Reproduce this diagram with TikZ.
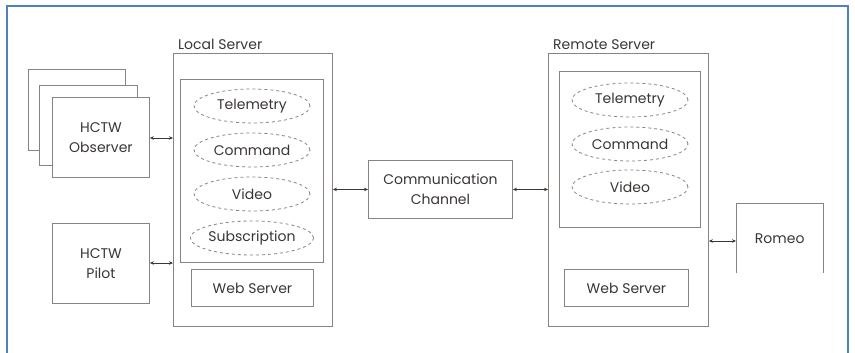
\documentclass[tikz,border=0pt]{standalone}
\usepackage{fontspec}
\setmainfont{Poppins}
\usetikzlibrary{arrows.meta,shapes.geometric}
\definecolor{ln}{HTML}{8A8480}
\definecolor{tx}{HTML}{3A3634}
\definecolor{bl}{HTML}{4F81BD}
\begin{document}
\begin{tikzpicture}[x=1pt,y=-1pt,
  fnt/.style={font=\fontsize{14}{20}\selectfont},
  box/.style={draw=ln,line width=0.9pt,fill=white,inner sep=0pt,fnt,text=tx,align=center},
  ell/.style={draw=ln,dashed,ellipse,line width=0.8pt,minimum width=116pt,minimum height=34pt,inner sep=0pt,fnt,text=tx},
  lbl/.style={fnt,text=tx,anchor=south west,inner sep=0pt},
  conn/.style={draw=tx,line width=0.7pt,{Stealth[length=4pt,width=3.5pt]}-{Stealth[length=4pt,width=3.5pt]}}]
\useasboundingbox (0,0) rectangle (855,353);
\draw[bl,line width=1.5pt] (7,375) -- (7,6) -- (848,6) -- (848,375);
% HCTW Observer stack
\node[box,minimum width=97pt,minimum height=81pt,anchor=north west] (ob3) at (28,69) {};
\node[box,minimum width=98pt,minimum height=80pt,anchor=north west] (ob2) at (39,85) {};
\node[box,minimum width=97pt,minimum height=80pt,anchor=north west] (ob) at (52,97) {HCTW\\Observer};
% HCTW Pilot
\node[box,minimum width=97pt,minimum height=80pt,anchor=north west] (pilot) at (52,223) {HCTW\\Pilot};
% Local server
\node[box,minimum width=159pt,minimum height=273pt,anchor=north west] (ls) at (173,53) {};
\node[lbl] (lsl) at (178,50) {Local Server};
\node[box,minimum width=143pt,minimum height=183pt,anchor=north west] (lsi) at (180,79) {};
\node[ell] (lt) at (252,106) {Telemetry};
\node[ell] (lc) at (252,150) {Command};
\node[ell] (lv) at (252,194) {Video};
\node[ell] (lsub) at (252,238) {Subscription};
\node[box,minimum width=122pt,minimum height=37pt,anchor=north west] (lw) at (191,269) {Web Server};
% Communication channel
\node[box,minimum width=144pt,minimum height=58pt,anchor=north west] (cc) at (368,160) {Communication\\Channel};
% Remote server
\node[box,minimum width=160pt,minimum height=273pt,anchor=north west] (rs) at (548,53) {};
\node[lbl] (rsl) at (553,50) {Remote Server};
\node[box,minimum width=141pt,minimum height=156pt,anchor=north west] (rsi) at (559,71) {};
\node[ell] (rt) at (630,100) {Telemetry};
\node[ell] (rc) at (630,144) {Command};
\node[ell] (rv) at (630,187) {Video};
\node[box,minimum width=124pt,minimum height=37pt,anchor=north west] (rw) at (564,269) {Web Server};
% Romeo
\node[minimum width=87pt,minimum height=70pt,anchor=north west,inner sep=0pt,fnt,text=tx] (ro) at (736,203) {Romeo};
\draw[ln,line width=0.9pt] (ro.south west) -- (ro.north west) -- (ro.north east) -- (ro.south east);
% connectors
\draw[conn] (ob.east |- 0,138) -- (ls.west |- 0,138);
\draw[conn] (pilot.east |- 0,263) -- (ls.west |- 0,263);
\draw[conn] (ls.east |- cc.west) -- (cc.west);
\draw[conn] (cc.east) -- (rs.west |- cc.east);
\draw[conn] (rs.east |- 0,241) -- (ro.west |- 0,241);
\end{tikzpicture}
\end{document}
